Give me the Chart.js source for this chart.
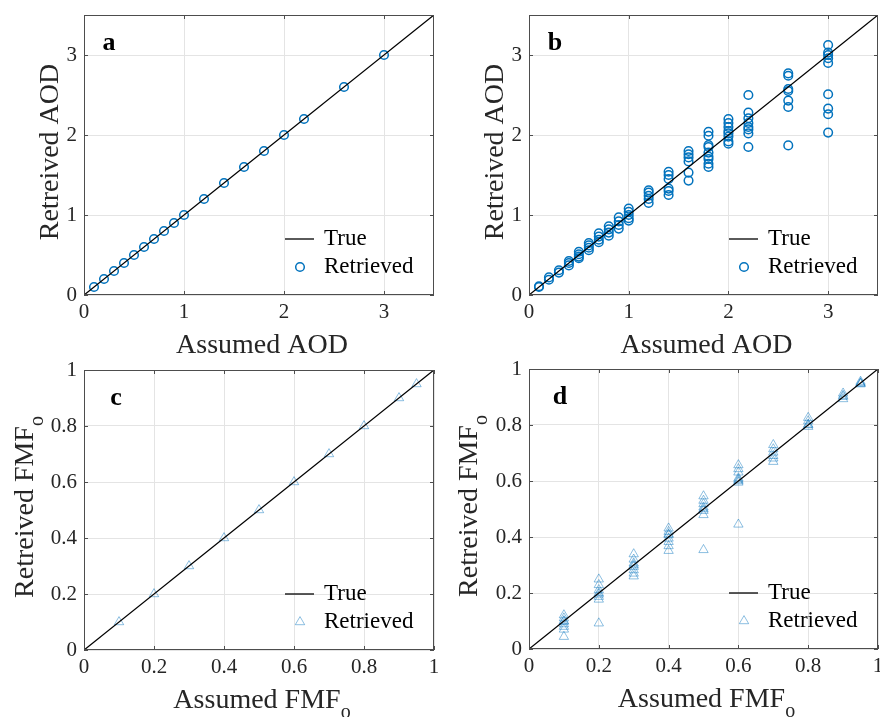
<!DOCTYPE html>
<html>
<head>
<meta charset="utf-8">
<script src="https://cdn.jsdelivr.net/npm/chart.js@4.4.0/dist/chart.umd.min.js"></script>
<style>
  html, body { margin: 0; padding: 0; background: #fff; }
  #wrap { position: relative; width: 880px; height: 717px; overflow: hidden; }
  #wrap canvas { position: absolute; }
</style>
</head>
<body>
<div id="wrap">
  <canvas id="cA" width="440" height="358" style="left:0;top:0"></canvas>
  <canvas id="cB" width="440" height="358" style="left:440px;top:0"></canvas>
  <canvas id="cC" width="440" height="359" style="left:0;top:358px"></canvas>
  <canvas id="cD" width="440" height="359" style="left:440px;top:358px"></canvas>
</div>
<script>
// AOD panels (a, b)
const aodLimits = [0, 3.5];
const aodTicks = [0, 1, 2, 3];
const aodAssumed = [0.1, 0.2, 0.3, 0.4, 0.5, 0.6, 0.7, 0.8, 0.9, 1.0, 1.2, 1.4, 1.6, 1.8, 2.0, 2.2, 2.6, 3.0];
const aodRetrievedA = [0.1, 0.2, 0.3, 0.4, 0.5, 0.6, 0.7, 0.8, 0.9, 1.0, 1.2, 1.4, 1.6, 1.8, 2.0, 2.2, 2.6, 3.0];
const aodRetrievedB = [
  [0.10, 0.11],
  [0.22, 0.19],
  [0.31, 0.28],
  [0.425, 0.40, 0.37],
  [0.54, 0.51, 0.48, 0.46],
  [0.65, 0.62, 0.59, 0.56],
  [0.77, 0.73, 0.69, 0.66],
  [0.86, 0.82, 0.78, 0.74],
  [0.97, 0.92, 0.875, 0.83],
  [1.08, 1.04, 1.00, 0.96, 0.93],
  [1.31, 1.28, 1.24, 1.20, 1.15],
  [1.54, 1.50, 1.45, 1.33, 1.30, 1.25],
  [1.80, 1.76, 1.72, 1.67, 1.53, 1.43],
  [2.04, 1.99, 1.875, 1.85, 1.78, 1.73, 1.70, 1.64, 1.60],
  [2.20, 2.15, 2.10, 2.05, 2.02, 1.98, 1.92, 1.89],
  [2.50, 2.28, 2.21, 2.15, 2.10, 2.07, 2.02, 1.85],
  [2.77, 2.74, 2.575, 2.55, 2.43, 2.35, 1.87],
  [3.125, 3.03, 3.00, 2.96, 2.90, 2.51, 2.33, 2.26, 2.03]
];

// FMF panels (c, d)
const fmfLimits = [0, 1];
const fmfTicks = [0, 0.2, 0.4, 0.6, 0.8, 1];
const fmfAssumed = [0.1, 0.2, 0.3, 0.4, 0.5, 0.6, 0.7, 0.8, 0.9, 0.95];
const fmfRetrievedC = [0.1, 0.2, 0.3, 0.4, 0.5, 0.6, 0.7, 0.8, 0.9, 0.95];
const fmfRetrievedD = [
  [0.121, 0.11, 0.10, 0.098, 0.089, 0.08, 0.07, 0.044],
  [0.249, 0.229, 0.211, 0.20, 0.195, 0.187, 0.177, 0.092],
  [0.339, 0.32, 0.306, 0.30, 0.294, 0.282, 0.27, 0.26],
  [0.431, 0.419, 0.41, 0.407, 0.395, 0.383, 0.368, 0.351],
  [0.546, 0.53, 0.518, 0.506, 0.50, 0.494, 0.479, 0.354],
  [0.657, 0.643, 0.631, 0.61, 0.605, 0.60, 0.595, 0.445],
  [0.729, 0.714, 0.702, 0.69, 0.681, 0.669],
  [0.826, 0.814, 0.802, 0.80, 0.794],
  [0.913, 0.905, 0.901, 0.893],
  [0.955, 0.95, 0.948, 0.946]
];

const BLUE = '#0072BD';
const TRI = 'rgba(0,114,189,0.45)';
const FONT = 'Liberation Serif';
Chart.defaults.font.family = FONT;

function pairs(xs, ys) {
  return xs.map((x, i) => ({ x: x, y: ys[i] }));
}
function groups(xs, yss) {
  const out = [];
  xs.forEach((x, i) => yss[i].forEach(y => out.push({ x: x, y: y })));
  return out;
}

// axis box, inward ticks, panel letter, legend, axis titles
const panelDeco = {
  id: 'panelDeco',
  afterDraw(chart, args, o) {
    const ctx = chart.ctx;
    const a = chart.chartArea;
    const xs = chart.scales.x, ys = chart.scales.y;
    ctx.save();
    ctx.strokeStyle = '#4d4d4d';
    ctx.lineWidth = 1;
    ctx.beginPath();
    xs.ticks.forEach(t => {
      const px = Math.round(xs.getPixelForValue(t.value)) + 0.5;
      ctx.moveTo(px, a.bottom); ctx.lineTo(px, a.bottom - 4);
      ctx.moveTo(px, a.top); ctx.lineTo(px, a.top + 4);
    });
    ys.ticks.forEach(t => {
      const py = Math.round(ys.getPixelForValue(t.value)) + 0.5;
      ctx.moveTo(a.left, py); ctx.lineTo(a.left + 4, py);
      ctx.moveTo(a.right, py); ctx.lineTo(a.right - 4, py);
    });
    ctx.stroke();
    ctx.strokeRect(Math.round(a.left) + 0.5, Math.round(a.top) + 0.5,
      Math.round(a.right - a.left) - 1, Math.round(a.bottom - a.top) - 1);

    // panel letter
    ctx.fillStyle = '#000';
    ctx.font = 'bold 26px ' + FONT;
    ctx.textAlign = 'center';
    ctx.textBaseline = 'middle';
    ctx.fillText(o.letter, a.left + o.letterDx, a.top + 28);

    // legend
    const yTrue = a.bottom - 56, yRet = a.bottom - 28;
    ctx.strokeStyle = '#000';
    ctx.lineWidth = 1.3;
    ctx.beginPath();
    ctx.moveTo(a.right - 149, yTrue); ctx.lineTo(a.right - 120, yTrue);
    ctx.stroke();
    const mx = a.right - 134;
    if (o.marker === 'circle') {
      ctx.strokeStyle = BLUE; ctx.lineWidth = 1.5;
      ctx.beginPath(); ctx.arc(mx, yRet, 4.3, 0, Math.PI * 2); ctx.stroke();
    } else {
      ctx.strokeStyle = TRI; ctx.lineWidth = 1;
      const r = 5.4;
      ctx.beginPath();
      ctx.moveTo(mx, yRet - r);
      ctx.lineTo(mx + r * Math.sin(2 * Math.PI / 3), yRet - r * Math.cos(2 * Math.PI / 3));
      ctx.lineTo(mx + r * Math.sin(4 * Math.PI / 3), yRet - r * Math.cos(4 * Math.PI / 3));
      ctx.closePath(); ctx.stroke();
    }
    ctx.fillStyle = '#000';
    ctx.font = '23px ' + FONT;
    ctx.textAlign = 'left';
    ctx.fillText('True', a.right - 110, yTrue);
    ctx.fillText('Retrieved', a.right - 110, yRet);

    // axis titles
    ctx.fillStyle = '#262626';
    drawTitle(ctx, o.xTitle, o.sub, (a.left + a.right) / 2 + 3, a.bottom + 58, false);
    drawTitle(ctx, o.yTitle, o.sub, a.left - o.yTitleDx, (a.top + a.bottom) / 2 - 3, true);
    ctx.restore();
  }
};

function drawTitle(ctx, main, sub, x, y, rotate) {
  ctx.save();
  ctx.translate(x, y);
  if (rotate) ctx.rotate(-Math.PI / 2);
  ctx.textAlign = 'left';
  ctx.textBaseline = 'alphabetic';
  ctx.font = '28px ' + FONT;
  const wm = ctx.measureText(main).width;
  ctx.font = '20px ' + FONT;
  const ws = sub ? ctx.measureText(sub).width : 0;
  const x0 = -(wm + ws) / 2;
  ctx.font = '28px ' + FONT;
  ctx.fillText(main, x0, 0);
  if (sub) {
    ctx.font = '20px ' + FONT;
    ctx.fillText(sub, x0 + wm, 10);
  }
  ctx.restore();
}

// keep the plot box where the layout puts it: no extra room for edge labels
function noLabelPadding(s) {
  s.paddingLeft = 0; s.paddingRight = 0; s.paddingTop = 0; s.paddingBottom = 0;
}

function makePanel(id, p) {
  const pointSet = p.marker === 'circle'
    ? { pointStyle: 'circle', pointRadius: 4.3, borderColor: BLUE, borderWidth: 1.5, backgroundColor: 'rgba(0,0,0,0)' }
    : { pointStyle: 'triangle', pointRadius: 5.4, borderColor: TRI, borderWidth: 1, backgroundColor: 'rgba(0,0,0,0)' };
  const tickFont = { family: FONT, size: 21 };
  return new Chart(document.getElementById(id), {
    type: 'scatter',
    data: {
      datasets: [
        {
          label: 'True',
          data: [{ x: p.lim[0], y: p.lim[0] }, { x: p.lim[1], y: p.lim[1] }],
          showLine: true,
          borderColor: '#000',
          borderWidth: 1.3,
          pointRadius: 0
        },
        Object.assign({ label: 'Retrieved', data: p.points, showLine: false, pointHoverRadius: 0 }, pointSet)
      ]
    },
    options: {
      responsive: false,
      animation: false,
      events: [],
      layout: { autoPadding: false, padding: { top: p.pad[0], right: p.pad[1], bottom: 0, left: 0 } },
      plugins: {
        legend: { display: false },
        tooltip: { enabled: false },
        panelDeco: p.deco
      },
      scales: {
        x: {
          type: 'linear', min: p.lim[0], max: p.lim[1],
          afterBuildTicks: s => { s.ticks = p.ticks.map(v => ({ value: v })); },
          afterFit: s => { s.height = p.xH; noLabelPadding(s); },
          grid: { color: '#e4e4e4', lineWidth: 1, drawTicks: false },
          border: { display: false },
          ticks: { padding: 5, font: tickFont, color: '#262626', autoSkip: false, maxRotation: 0, callback: v => String(v) }
        },
        y: {
          type: 'linear', min: p.lim[0], max: p.lim[1],
          afterBuildTicks: s => { s.ticks = p.ticks.map(v => ({ value: v })); },
          afterFit: s => { s.width = p.yW; noLabelPadding(s); },
          grid: { color: '#e4e4e4', lineWidth: 1, drawTicks: false },
          border: { display: false },
          ticks: { padding: 7, font: tickFont, color: '#262626', autoSkip: false, callback: v => String(v) }
        }
      }
    },
    plugins: [panelDeco]
  });
}

makePanel('cA', {
  lim: aodLimits, ticks: aodTicks, marker: 'circle',
  points: pairs(aodAssumed, aodRetrievedA),
  pad: [15, 6], yW: 84, xH: 63,
  deco: { letter: 'a', letterDx: 25, marker: 'circle', xTitle: 'Assumed AOD', yTitle: 'Retreived AOD', sub: '', yTitleDx: 26 }
});
makePanel('cB', {
  lim: aodLimits, ticks: aodTicks, marker: 'circle',
  points: groups(aodAssumed, aodRetrievedB),
  pad: [15, 2], yW: 89, xH: 63,
  deco: { letter: 'b', letterDx: 26, marker: 'circle', xTitle: 'Assumed AOD', yTitle: 'Retreived AOD', sub: '', yTitleDx: 26 }
});
makePanel('cC', {
  lim: fmfLimits, ticks: fmfTicks, marker: 'triangle',
  points: pairs(fmfAssumed, fmfRetrievedC),
  pad: [12, 6], yW: 84, xH: 67,
  deco: { letter: 'c', letterDx: 32, marker: 'triangle', xTitle: 'Assumed FMF', yTitle: 'Retreived FMF', sub: 'o', yTitleDx: 51 }
});
makePanel('cD', {
  lim: fmfLimits, ticks: fmfTicks, marker: 'triangle',
  points: groups(fmfAssumed, fmfRetrievedD),
  pad: [11, 2], yW: 89, xH: 68,
  deco: { letter: 'd', letterDx: 31, marker: 'triangle', xTitle: 'Assumed FMF', yTitle: 'Retreived FMF', sub: 'o', yTitleDx: 52 }
});
</script>
</body>
</html>
